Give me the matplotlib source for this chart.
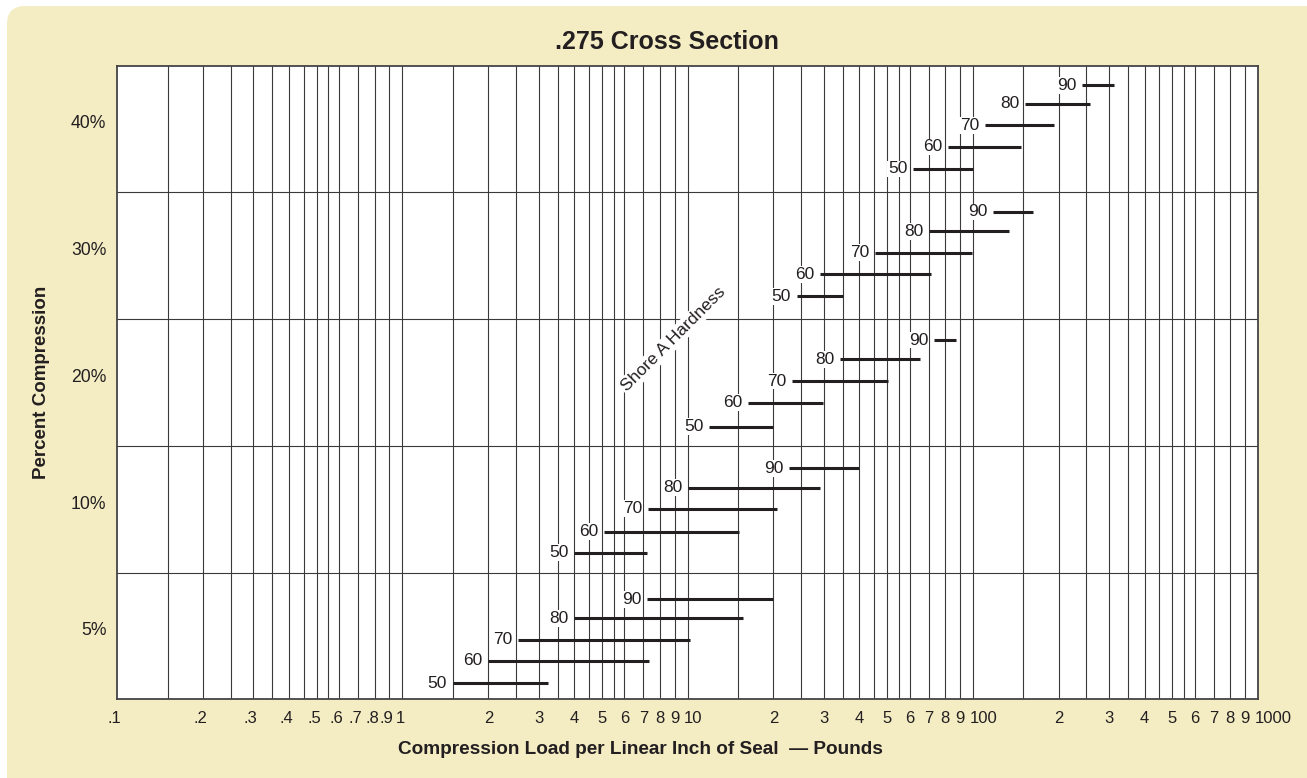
import numpy as np
import matplotlib
matplotlib.use("Agg")
from matplotlib import pyplot as plt
from matplotlib.patches import FancyBboxPatch
from matplotlib.transforms import IdentityTransform, blended_transform_factory, offset_copy

plt.rcParams['font.family'] = ['Liberation Sans', 'DejaVu Sans']

# percent compression bands, bottom to top
bands = ["5%", "10%", "20%", "30%", "40%"]
hardness = ["50", "60", "70", "80", "90"]

# load range (lb per linear inch) for each hardness, per band
load_start = [
    [1.5, 2.0, 2.55, 4.0, 7.2],        # 5%
    [4.0, 5.1, 7.25, 10.0, 22.7],      # 10%
    [11.9, 16.3, 23.2, 34.1, 73.0],    # 20%
    [24.1, 29.2, 45.5, 70.2, 118.0],   # 30%
    [61.7, 81.8, 110.0, 152.0, 241.0], # 40%
]
load_end = [
    [3.25, 7.3, 10.2, 15.6, 20.0],
    [7.2, 15.1, 20.5, 29.0, 40.0],
    [20.0, 29.8, 50.4, 65.5, 87.0],
    [35.0, 71.5, 99.6, 133.6, 162.0],
    [100.4, 148.0, 193.0, 258.0, 313.0],
]
# vertical place of each bar inside its band (0 = bottom of band, 1 = top)
bar_level = [
    [0.126, 0.305, 0.468, 0.640, 0.790],
    [0.157, 0.323, 0.503, 0.671, 0.824],
    [0.151, 0.340, 0.511, 0.682, 0.835],
    [0.181, 0.354, 0.524, 0.694, 0.846],
    [0.185, 0.359, 0.530, 0.701, 0.845],
]

ink = '#231f20'
grid_c = '#3a3a3a'

fig = plt.figure(figsize=(13.07, 7.78), dpi=100)
fig.patch.set_facecolor('white')
bg = FancyBboxPatch((7, -30), 1340, 802, boxstyle="round,pad=0,rounding_size=18",
                    transform=IdentityTransform(), facecolor='#f4edc4', edgecolor='none', zorder=-10)
fig.patches.append(bg)

ax = fig.add_axes([117.3 / 1307, 1 - 699.3 / 778, (1258 - 117.3) / 1307, (699.3 - 65.7) / 778])
ax.set_zorder(1)
ax.set_facecolor('white')
ax.set_xscale('log')
ax.set_xlim(0.1, 1000)
ax.set_ylim(0, 5)

# log grid: lines at 1, 1.5, 2, ... 9 of each decade
mults = [1, 1.5, 2, 2.5, 3, 3.5, 4, 4.5, 5, 5.5, 6, 7, 8, 9]
for d in [0.1, 1, 10, 100]:
    for m in mults:
        x = m * d
        if x > 0.1:
            ax.axvline(x, color=grid_c, lw=0.8, zorder=1)
for yb in range(1, 5):
    ax.axhline(yb, color=grid_c, lw=0.8, zorder=1)

for s in ax.spines.values():
    s.set_color('#444444')
    s.set_linewidth(1.3)
ax.set_xticks([])
ax.set_yticks([])
ax.minorticks_off()

# bars with hardness labels
for b in range(len(bands)):
    for h in range(len(hardness)):
        y = b + bar_level[b][h]
        ax.plot([load_start[b][h], load_end[b][h]], [y, y], color=ink, lw=2.2,
                solid_capstyle='butt', zorder=5)
        ax.annotate(hardness[h], (load_start[b][h], y), xytext=(-4, 0),
                    textcoords='offset points', ha='right', va='center',
                    fontsize=12.5, color=ink, zorder=4,
                    bbox=dict(boxstyle='square,pad=0.05', fc='white', ec='none'))

# y labels
for b, lab in enumerate(bands):
    ax.text(-0.0095, (b + 0.54) / 5, lab, transform=ax.transAxes, ha='right', va='center',
            fontsize=12.7, color=ink)

# x tick labels
tick_vals = []
tick_labs = []
for d, fmt in [(0.1, 'dot'), (1, 'int'), (10, 'int'), (100, 'int')]:
    for m in range(1, 10):
        v = m * d
        if fmt == 'dot':
            tick_labs.append('.%d' % m)
        else:
            tick_labs.append(str(m) if m > 1 else str(int(d)))
        tick_vals.append(v)
tick_vals.append(1000)
tick_labs.append('1000')
trans = blended_transform_factory(ax.transData, ax.transAxes)
for v, lab in zip(tick_vals, tick_labs):
    if lab in ('10', '100', '1000'):
        t = offset_copy(trans, fig=fig, x=-3.5, y=0, units='dots')
        ax.text(v, -0.031, lab, transform=t, ha='left', va='center', fontsize=12, color=ink)
    elif lab.startswith('.') or lab == '1':
        t = offset_copy(trans, fig=fig, x=-2.5, y=0, units='dots')
        ax.text(v, -0.031, lab, transform=t, ha='center', va='center', fontsize=12, color=ink)
    else:
        ax.text(v, -0.031, lab, transform=trans, ha='center', va='center', fontsize=12, color=ink)

ax.text(8.9, 2.84, 'Shore A Hardness', rotation=45, ha='center', va='center',
        fontsize=12.5, color=ink, zorder=4, rotation_mode='anchor',
        bbox=dict(boxstyle='square,pad=0.1', fc='white', ec='none'))

fig.text(667 / 1307, 1 - 42 / 778, '.275 Cross Section', ha='center', va='center',
         fontsize=18, fontweight='bold', color=ink)
fig.text(640 / 1307, 1 - 749 / 778, 'Compression Load per Linear Inch of Seal  \u2014 Pounds',
         ha='center', va='center', fontsize=13.7, fontweight='bold', color=ink)
fig.text(42 / 1307, 1 - 382 / 778, 'Percent Compression', rotation=90, ha='center', va='center',
         fontsize=13.5, fontweight='bold', color=ink)

fig.savefig('out.png', dpi=100, facecolor=fig.get_facecolor())
